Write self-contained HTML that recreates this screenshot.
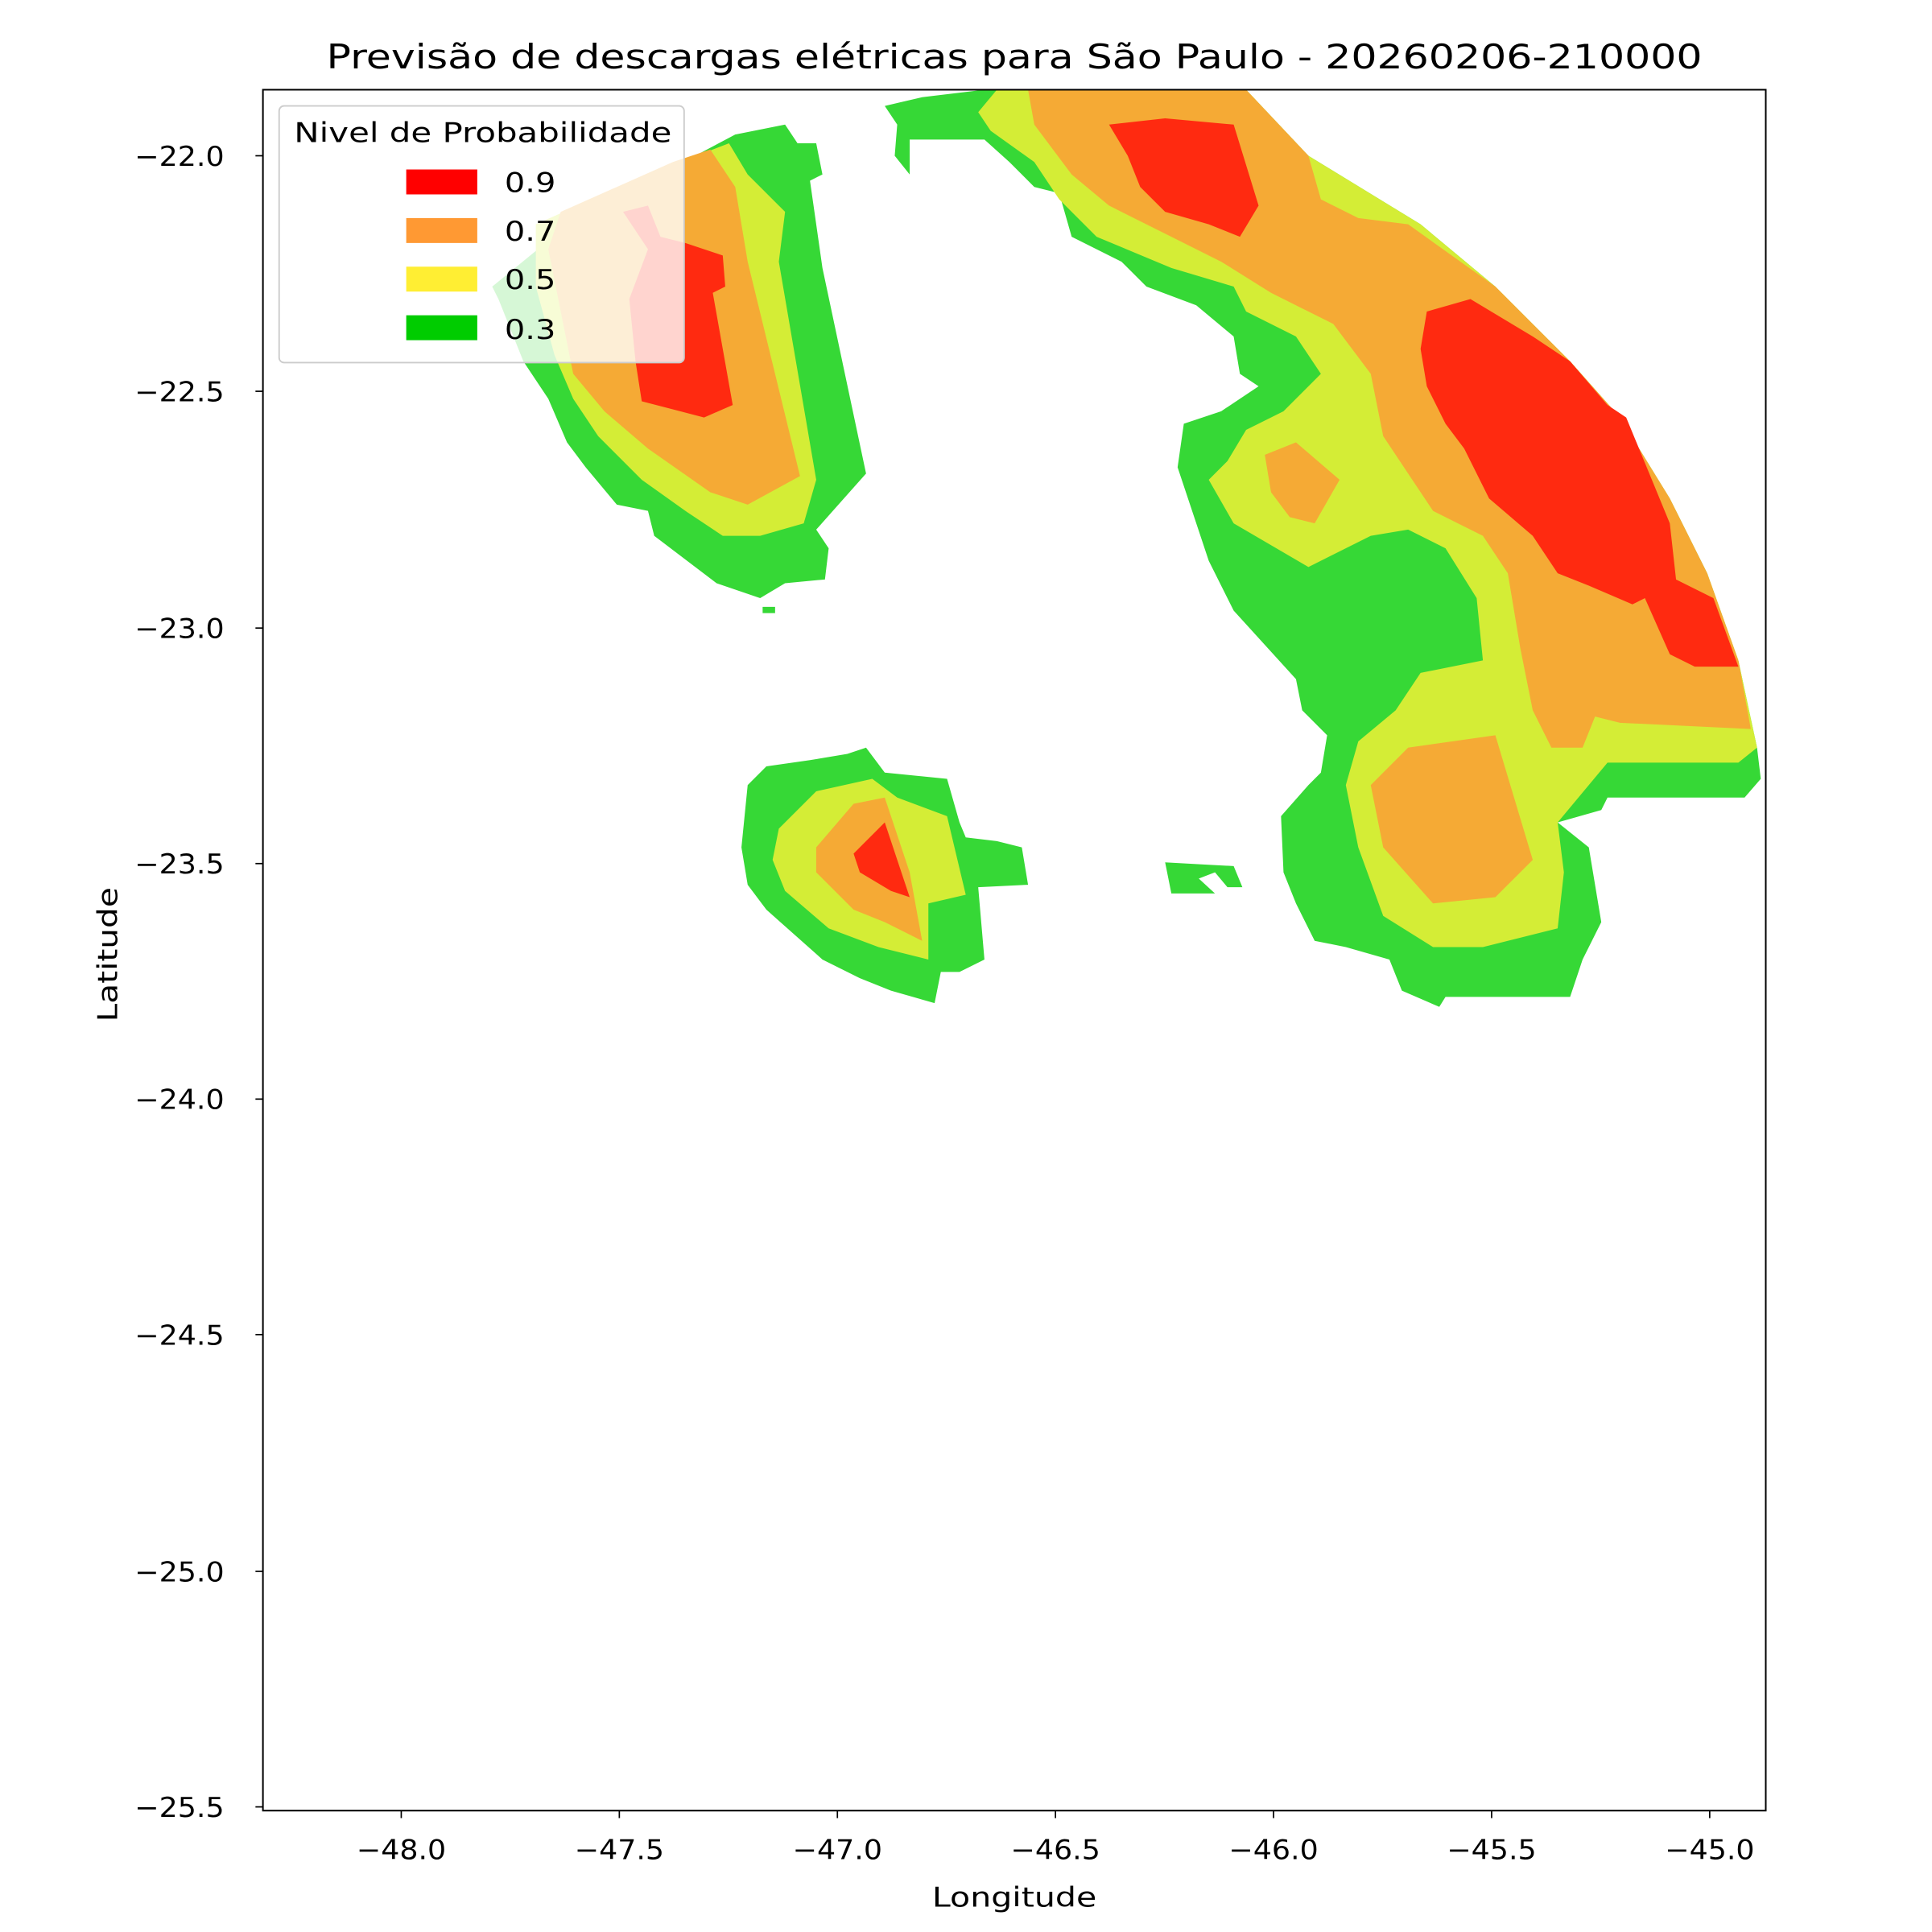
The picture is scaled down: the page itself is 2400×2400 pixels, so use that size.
<!DOCTYPE html>
<html><head><meta charset="utf-8"><style>html,body{margin:0;padding:0;background:#fff}svg{display:block}</style></head>
<body>
<svg width="2400" height="2400" viewBox="0 0 1550.4 1550.4" xmlns="http://www.w3.org/2000/svg" font-family="'DejaVu Sans','Liberation Sans',sans-serif">
<defs><clipPath id="ax"><rect x="211" y="72" width="1206" height="1381"/></clipPath></defs>
<g clip-path="url(#ax)">
<polygon fill="#36d836" points="395,230 450,185 520,145 590,108 630,100 640,115 655,115 660,140 650,145 660,215 695,380 655,425 665,440 662,465 630,468 610,480 575,468 525,430 520,410 495,405 470,375 455,355 440,320 420,290 400,240"/>
<polygon fill="#d4ed36" points="430,180 520,140 585,115 600,140 630,170 625,210 655,385 645,420 610,430 580,430 550,410 515,385 480,350 460,320 445,285 430,230"/>
<polygon fill="#f5aa35" points="450,170 540,130 570,120 590,150 600,210 642,382 600,405 570,395 520,360 485,330 460,300 450,250 440,200"/>
<polygon fill="#ff2a10" points="500,170 520,165 530,190 550,195 580,205 582,230 572,235 588,325 565,335 515,322 510,290 505,240 520,200"/>
<rect x="612" y="487" width="10" height="5" fill="#36d836"/>
<polygon fill="#36d836" points="710,85 740,78 790,72 1000,72 1050,125 1140,180 1200,230 1260,290 1300,335 1340,400 1370,460 1395,530 1410,600 1413,625 1400,640 1290,640 1285,650 1250,660 1275,680 1285,740 1270,770 1260,800 1160,800 1155,808 1125,795 1115,770 1080,760 1055,755 1040,725 1030,700 1028,655 1050,630 1060,620 1065,590 1045,570 1040,545 990,490 970,450 960,420 945,375 950,340 980,330 1010,310 995,300 990,270 960,245 920,230 900,210 860,190 850,155 830,150 810,130 790,112 730,112 730,140 718,125 720,100"/>
<polygon fill="#d4ed36" points="785,90 800,72 1000,72 1050,125 1140,180 1200,230 1260,290 1300,335 1340,400 1370,460 1395,530 1410,600 1395,612 1290,612 1250,660 1255,700 1250,745 1190,760 1150,760 1110,735 1090,680 1080,630 1090,595 1120,570 1140,540 1190,530 1185,480 1160,440 1130,425 1100,430 1050,455 990,420 970,385 985,370 1000,345 1030,330 1050,310 1060,300 1040,270 1000,250 990,230 940,215 880,190 850,160 830,130 795,105"/>
<polygon fill="#f5aa35" points="825,72 1000,72 1050,125 1060,160 1090,175 1130,180 1200,230 1260,290 1300,335 1340,400 1370,460 1395,530 1405,585 1300,580 1280,575 1270,600 1245,600 1230,570 1220,520 1210,460 1190,430 1150,410 1130,380 1110,350 1100,300 1070,260 1020,235 980,210 940,190 890,165 860,140 830,100"/>
<polygon fill="#f5aa35" points="1015,365 1040,355 1075,385 1055,420 1035,415 1020,395"/>
<polygon fill="#f5aa35" points="1100,630 1130,600 1200,590 1230,690 1200,720 1150,725 1110,680"/>
<polygon fill="#ff2a10" points="890,100 935,95 990,100 1010,165 995,190 970,180 935,170 915,150 905,125"/>
<polygon fill="#ff2a10" points="1145,250 1180,240 1230,270 1260,290 1290,325 1305,335 1340,420 1345,465 1375,480 1395,535 1360,535 1340,525 1320,480 1310,485 1275,470 1250,460 1230,430 1195,400 1175,360 1160,340 1145,310 1140,280"/>
<polygon fill="#36d836" points="600,630 615,615 650,610 680,605 695,600 710,620 760,625 770,660 775,672 800,675 820,680 825,710 785,712 790,770 770,780 755,780 750,805 715,795 690,785 660,770 615,730 600,710 595,680"/>
<polygon fill="#d4ed36" points="625,665 655,635 700,625 720,640 760,655 775,718 745,725 745,770 705,760 665,745 630,715 620,690"/>
<polygon fill="#f5aa35" points="655,680 685,645 710,640 730,700 740,755 710,740 685,730 655,700"/>
<polygon fill="#ff2a10" points="685,685 710,660 730,720 715,715 690,700"/>
<polygon fill="#36d836" points="935,692 970,694 990,695 997,712 985,712 975,700 962,705 975,717 940,717"/>
</g>
<rect x="224" y="85" width="325" height="206" rx="4" fill="#fff" fill-opacity="0.8" stroke="#cccccc" stroke-width="1.2"/>
<text x="236" y="114" font-size="22" textLength="303" lengthAdjust="spacingAndGlyphs">Nivel de Probabilidade</text>
<rect x="326" y="136" width="57" height="20" fill="#ff0000"/><text x="405" y="154" font-size="22" textLength="41" lengthAdjust="spacingAndGlyphs">0.9</text>
<rect x="326" y="175" width="57" height="20" fill="#ff9933"/><text x="405" y="193" font-size="22" textLength="41" lengthAdjust="spacingAndGlyphs">0.7</text>
<rect x="326" y="214" width="57" height="20" fill="#ffee33"/><text x="405" y="232" font-size="22" textLength="41" lengthAdjust="spacingAndGlyphs">0.5</text>
<rect x="326" y="253" width="57" height="20" fill="#00cc00"/><text x="405" y="272" font-size="22" textLength="41" lengthAdjust="spacingAndGlyphs">0.3</text>
<rect x="211" y="72" width="1206" height="1381" fill="none" stroke="#000" stroke-width="1.3"/>
<g stroke="#000" stroke-width="1.1">
<line x1="322" y1="1453" x2="322" y2="1459"/><line x1="497" y1="1453" x2="497" y2="1459"/><line x1="672" y1="1453" x2="672" y2="1459"/><line x1="847" y1="1453" x2="847" y2="1459"/><line x1="1022" y1="1453" x2="1022" y2="1459"/><line x1="1197" y1="1453" x2="1197" y2="1459"/><line x1="1372" y1="1453" x2="1372" y2="1459"/>
<line x1="205" y1="125" x2="211" y2="125"/><line x1="205" y1="314" x2="211" y2="314"/><line x1="205" y1="504" x2="211" y2="504"/><line x1="205" y1="693" x2="211" y2="693"/><line x1="205" y1="882" x2="211" y2="882"/><line x1="205" y1="1071" x2="211" y2="1071"/><line x1="205" y1="1261" x2="211" y2="1261"/><line x1="205" y1="1450" x2="211" y2="1450"/>
</g>
<g font-size="22">
<text x="286" y="1492" textLength="72" lengthAdjust="spacingAndGlyphs">−48.0</text><text x="461" y="1492" textLength="72" lengthAdjust="spacingAndGlyphs">−47.5</text><text x="636" y="1492" textLength="72" lengthAdjust="spacingAndGlyphs">−47.0</text><text x="811" y="1492" textLength="72" lengthAdjust="spacingAndGlyphs">−46.5</text><text x="986" y="1492" textLength="72" lengthAdjust="spacingAndGlyphs">−46.0</text><text x="1161" y="1492" textLength="72" lengthAdjust="spacingAndGlyphs">−45.5</text><text x="1336" y="1492" textLength="72" lengthAdjust="spacingAndGlyphs">−45.0</text>
</g>
<g font-size="22">
<text x="108" y="133" textLength="72" lengthAdjust="spacingAndGlyphs">−22.0</text><text x="108" y="322" textLength="72" lengthAdjust="spacingAndGlyphs">−22.5</text><text x="108" y="512" textLength="72" lengthAdjust="spacingAndGlyphs">−23.0</text><text x="108" y="701" textLength="72" lengthAdjust="spacingAndGlyphs">−23.5</text><text x="108" y="890" textLength="72" lengthAdjust="spacingAndGlyphs">−24.0</text><text x="108" y="1079" textLength="72" lengthAdjust="spacingAndGlyphs">−24.5</text><text x="108" y="1269" textLength="72" lengthAdjust="spacingAndGlyphs">−25.0</text><text x="108" y="1458" textLength="72" lengthAdjust="spacingAndGlyphs">−25.5</text>
</g>
<text x="748" y="1530" font-size="22" textLength="132" lengthAdjust="spacingAndGlyphs">Longitude</text>
<text x="0" y="0" font-size="22" textLength="108" lengthAdjust="spacingAndGlyphs" transform="translate(94,820) rotate(-90)">Latitude</text>
<text x="262" y="55" font-size="27" textLength="1104" lengthAdjust="spacingAndGlyphs">Previsão de descargas elétricas para São Paulo - 20260206-210000</text>
</svg>
</body></html>
